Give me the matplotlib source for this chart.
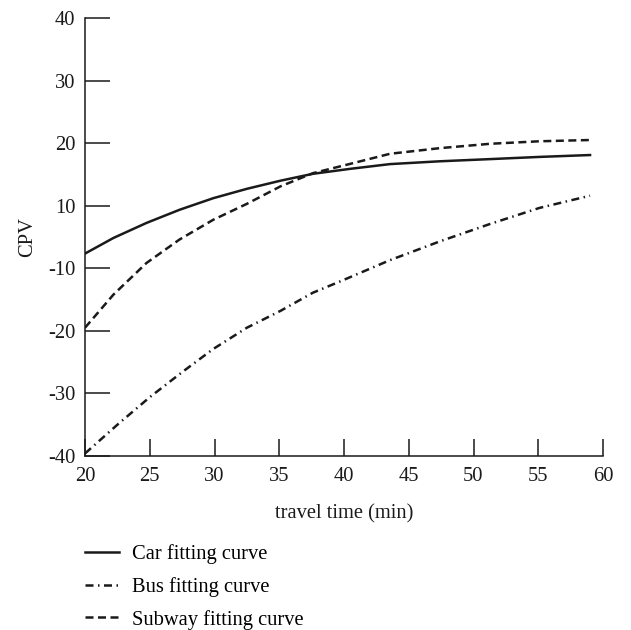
import numpy as np
import matplotlib
matplotlib.use("Agg")
import matplotlib.pyplot as plt

plt.rcParams['font.family'] = ['Liberation Serif', 'DejaVu Serif']
plt.rcParams['axes.unicode_minus'] = False

# travel time (min) and CPV
car_x = [20, 22.2, 24.75, 27.3, 29.9, 32.5, 35.1, 37.6, 40.5, 43.55, 47.4, 51.3, 55.1, 59]
car_y = [-5.3, -0.3, 4.5, 8.7, 11.2, 12.7, 14.0, 15.1, 15.9, 16.65, 17.1, 17.45, 17.8, 18.1]

bus_x = [20, 22.5, 25, 27.5, 29.9, 32.5, 35.1, 37.6, 39.7, 43.55, 47.4, 51.3, 55.1, 59]
bus_y = [-39.6, -35.0, -30.6, -26.6, -22.9, -19.5, -16.8, -13.9, -12.1, -7.4, -1.4, 4.2, 9.3, 11.6]

subway_x = [20, 22.2, 24.75, 27.3, 29.9, 32.5, 35.1, 37.6, 40.5, 43.55, 47.4, 51.3, 55.1, 59]
subway_y = [-19.5, -14.2, -8.3, -0.8, 5.5, 10.3, 13.1, 15.2, 16.7, 18.3, 19.2, 19.9, 20.3, 20.5]

x_ticks = [20, 25, 30, 35, 40, 45, 50, 55, 60]
y_ticks = [-40, -30, -20, -10, 10, 20, 30, 40]


# the axis has no 0: the gap between -10 and 10 takes one tick step
def fwd(v):
    v = np.asarray(v, dtype=float)
    return np.where(np.abs(v) < 10, v / 2, v - 5 * np.sign(v))


def inv(u):
    u = np.asarray(u, dtype=float)
    return np.where(np.abs(u) < 5, u * 2, u + 5 * np.sign(u))


fs = 14.8
ink = '#1a1a1a'

fig = plt.figure(figsize=(6.31, 6.30), dpi=100)
ax = fig.add_axes([85 / 631, 1 - 456 / 630, (603 - 85) / 631, (456 - 18) / 630])
ax.set_yscale('function', functions=(fwd, inv))

lw = 1.8
ax.plot(car_x, car_y, color=ink, lw=lw, label='Car fitting curve')
ax.plot(bus_x, bus_y, color=ink, lw=lw, dashes=(3.2, 1.8, 0.6, 1.8),
        label='Bus fitting curve')
ax.plot(subway_x, subway_y, color=ink, lw=lw, dashes=(3.2, 1.8),
        label='Subway fitting curve')

ax.set_xlim(20, 60)
ax.set_ylim(-40, 40)
ax.set_xticks(x_ticks)
ax.set_yticks(y_ticks)
ax.set_yticklabels([str(t) for t in y_ticks])
ax.minorticks_off()

for s in ['top', 'right']:
    ax.spines[s].set_visible(False)
for s in ['left', 'bottom']:
    ax.spines[s].set_linewidth(1.1)
    ax.spines[s].set_color(ink)

ax.tick_params(axis='y', direction='in', length=18, width=1.1, labelsize=fs, pad=7,
               colors=ink)
ax.tick_params(axis='x', direction='in', length=12, width=1.1, labelsize=fs, pad=8,
               colors=ink)

ax.set_xlabel('travel time (min)', fontsize=fs, labelpad=13, color=ink)
ax.set_ylabel('CPV', fontsize=fs, labelpad=8, color=ink)

fig.legend(loc='upper left', bbox_to_anchor=(85 / 631, 1 - 544 / 630), frameon=False,
           fontsize=fs, handlelength=1.65, handletextpad=0.62, labelspacing=0.63,
           borderpad=0, borderaxespad=0)

fig.savefig('out.png', dpi=100)
